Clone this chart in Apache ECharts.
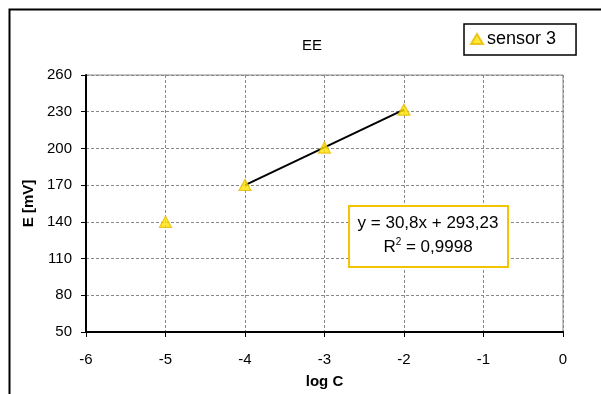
<!DOCTYPE html>
<html>
<head>
<meta charset="utf-8">
<script src="https://cdn.jsdelivr.net/npm/echarts@6/dist/echarts.min.js"></script>
<style>html,body{margin:0;padding:0;background:#fff}#c{width:601px;height:394px}</style>
</head>
<body>
<div id="c"></div>
<script>
const logC = [-5, -4, -3, -2];
const sensor3 = [140, 170.1, 200.7, 231.7];
const trendX = [-4, -2];
const slope = 30.8, intercept = 293.23;
const yTicks = [50, 80, 110, 140, 170, 200, 230, 260];
const xTicks = [-6, -5, -4, -3, -2, -1, 0];
const eqText = 'y = 30,8x + 293,23';
const r2Text = 'R{sup|2} = 0,9998';

const FONT = '"Liberation Sans", Arial, sans-serif';
const chart = echarts.init(document.getElementById('c'));
chart.setOption({
  animation: false,
  backgroundColor: '#fff',
  title: {
    text: 'EE', left: 307, top: 33, textAlign: 'center',
    textStyle: {fontFamily: FONT, fontSize: 15, fontWeight: 'normal', color: '#000'}
  },
  legend: {
    left: 464, top: 24,
    padding: [6, 20, 7, 6], borderColor: '#000', borderWidth: 1.5,
    itemWidth: 12, itemHeight: 10, itemGap: 4,
    textStyle: {fontFamily: FONT, fontSize: 18, color: '#000', padding: [0,0,0,-1]},
    data: [{name: 'sensor 3', icon: 'triangle'}]
  },
  grid: {left: 86, top: 75, width: 477, height: 259, show: true, borderColor: '#888', borderWidth: 1},
  xAxis: {
    type: 'value', min: -6, max: 0, interval: 1,
    name: 'log C', nameLocation: 'middle', nameGap: 42,
    nameTextStyle: {fontFamily: FONT, fontSize: 15, fontWeight: 'bold', color: '#000'},
    axisLine: {show: true, onZero: false, lineStyle: {color: '#000', width: 2}},
    axisTick: {show: true, inside: false, length: 5, lineStyle: {color: '#000', width: 1}},
    axisLabel: {fontFamily: FONT, fontSize: 15, color: '#000', margin: 20, customValues: xTicks, formatter: v => String(v)},
    splitLine: {show: true, lineStyle: {color: '#888', type: [3, 2], width: 1}}
  },
  yAxis: {
    type: 'value', min: 50, max: 260,
    name: 'E [mV]', nameLocation: 'middle', nameGap: 50, nameRotate: 90,
    nameTextStyle: {fontFamily: FONT, fontSize: 15, fontWeight: 'bold', color: '#000'},
    axisLine: {show: true, onZero: false, lineStyle: {color: '#000', width: 2}},
    axisTick: {show: true, length: 5, customValues: yTicks, lineStyle: {color: '#000', width: 1}},
    axisLabel: {fontFamily: FONT, fontSize: 15, color: '#000', margin: 14, customValues: yTicks},
    splitLine: {show: true, lineStyle: {color: '#888', type: [3, 2], width: 1}}
  },
  series: [
    {
      name: 'trend', type: 'line', silent: true, symbol: 'none',
      lineStyle: {color: '#000', width: 2},
      data: trendX.map(x => [x, slope * x + intercept]), z: 3
    },
    {
      name: 'sensor 3', type: 'scatter', symbol: 'triangle', symbolSize: [12, 11],
      itemStyle: {color: '#FFE400', borderColor: '#E8B800', borderWidth: 1.2},
      data: logC.map((x, i) => [x, sensor3[i]]), z: 4
    }
  ],
  graphic: [
    {type: 'rect', left: 7, top: 7, shape: {width: 640, height: 440},
     style: {fill: 'none', stroke: '#000', lineWidth: 2}, silent: true},
    {type: 'rect', left: 348, top: 205, shape: {width: 159, height: 61},
     style: {fill: '#fff', stroke: '#F5C400', lineWidth: 2}, z: 10},
    {type: 'text', x: 428, y: 223, z: 11,
     style: {text: eqText, fontFamily: FONT, fontSize: 17, fill: '#000', align: 'center', verticalAlign: 'middle'}},
    {type: 'text', x: 428, y: 247, z: 11,
     style: {text: r2Text, fontFamily: FONT, fontSize: 17, fill: '#000', align: 'center', verticalAlign: 'middle',
       rich: {sup: {fontSize: 10, verticalAlign: 'top', padding: [0,0,9,0], fontFamily: FONT}}}}
  ]
});
</script>
</body>
</html>
